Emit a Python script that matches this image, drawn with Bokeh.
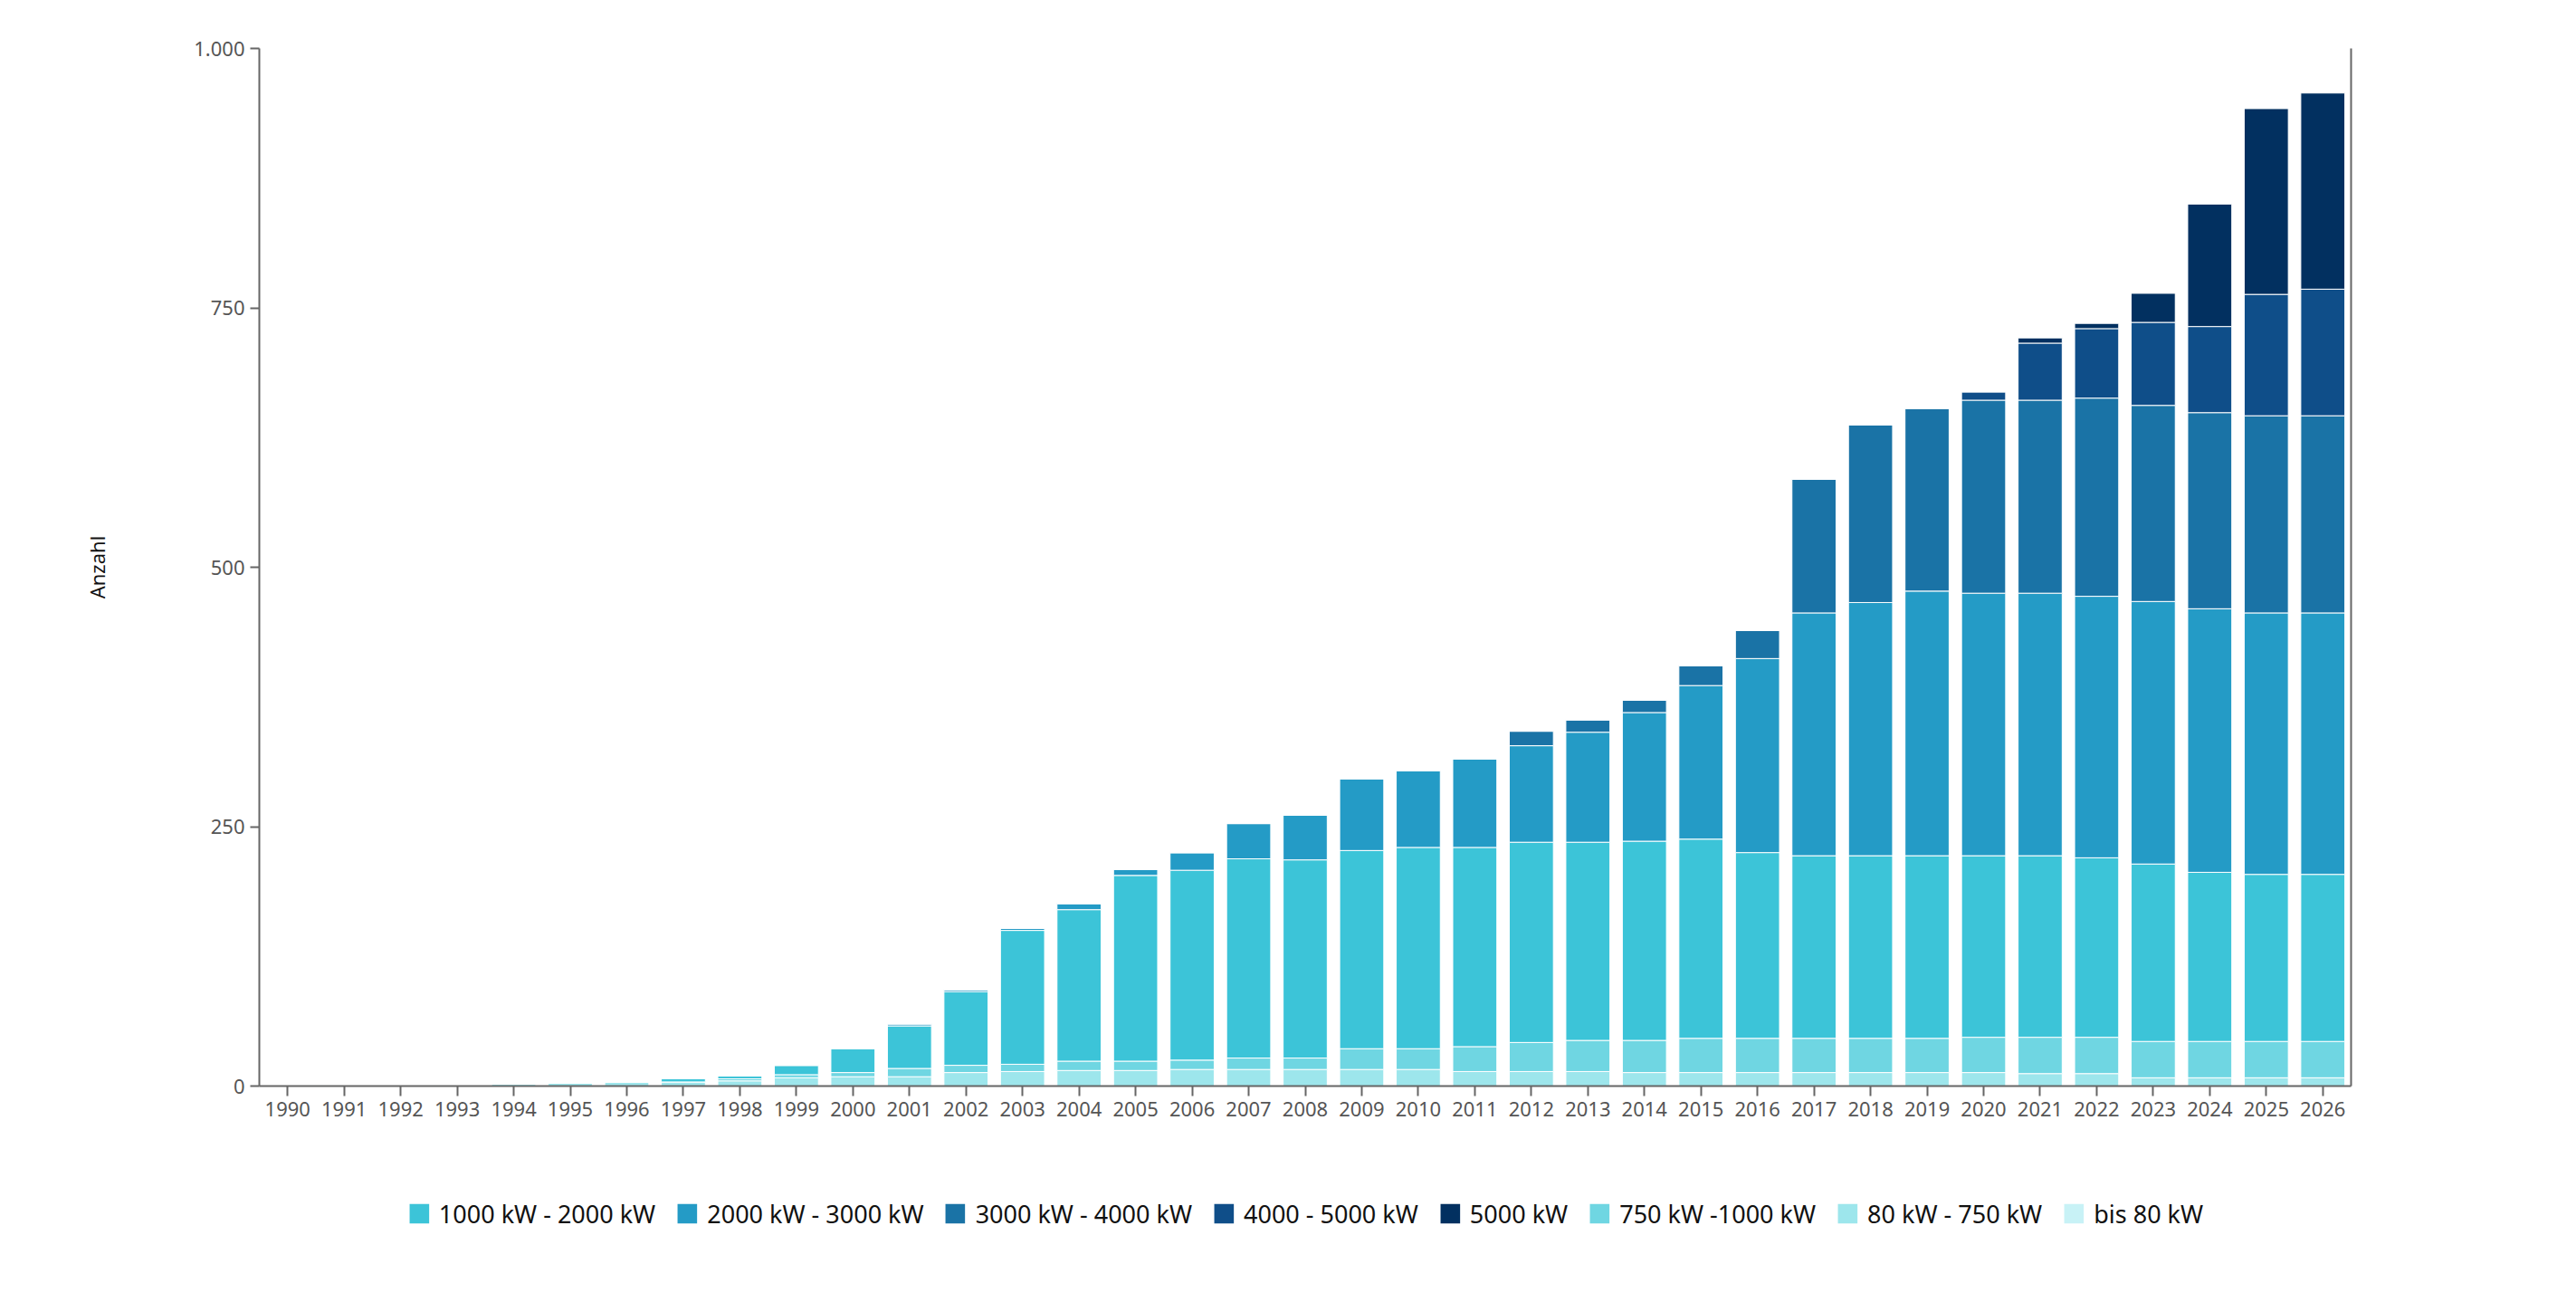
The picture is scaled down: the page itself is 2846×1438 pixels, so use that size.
from bokeh.plotting import figure
from bokeh.layouts import column
from bokeh.models import (FactorRange, Range1d, Legend, LegendItem, FixedTicker,
                          LinearAxis, ColumnDataSource, Title)
from bokeh.embed import file_html
from bokeh.resources import INLINE

years = [str(y) for y in range(1990, 2027)]

bis_80 = [1, 1, 1, 1, 0, 0, 0, 0, 0, 0, 0, 0, 0, 0, 0, 0, 0, 0, 0, 0,
          0, 0, 0, 0, 0, 0, 0, 0, 0, 0, 0, 0, 0, 0, 0, 0, 0]
kw80_750 = [0, 0, 0, 0, 2, 3, 4, 4, 5, 8, 9, 9, 13, 14, 15, 15, 16, 16, 16, 16,
            16, 14, 14, 14, 13, 13, 13, 13, 13, 13, 13, 12, 12, 8, 8, 8, 8]
kw750_1000 = [0, 0, 0, 0, 0, 0, 0, 0, 2, 3, 4, 8, 7, 7, 9, 9, 9, 11, 11, 20,
              20, 24, 28, 30, 31, 33, 33, 33, 33, 33, 34, 35, 35, 35, 35, 35, 35]
kw1000_2000 = [0, 0, 0, 0, 0, 0, 0, 3, 3, 9, 23, 41, 71, 129, 146, 179, 183, 192, 191, 191,
               194, 192, 193, 191, 192, 192, 179, 176, 176, 176, 175, 175, 173, 171, 163, 161, 161]
kw2000_3000 = [0, 0, 0, 0, 0, 0, 0, 0, 0, 0, 0, 2, 2, 2, 6, 6, 17, 34, 43, 69,
               74, 85, 93, 106, 124, 148, 187, 234, 244, 255, 253, 253, 252, 253, 254, 252, 252]
kw3000_4000 = [0, 0, 0, 0, 0, 0, 0, 0, 0, 0, 0, 0, 0, 0, 0, 0, 0, 0, 0, 0,
               0, 0, 14, 12, 12, 19, 27, 129, 171, 176, 186, 186, 191, 189, 189, 190, 190]
kw4000_5000 = [0, 0, 0, 0, 0, 0, 0, 0, 0, 0, 0, 0, 0, 0, 0, 0, 0, 0, 0, 0,
               0, 0, 0, 0, 0, 0, 0, 0, 0, 0, 8, 55, 67, 80, 83, 117, 122]
kw5000 = [0, 0, 0, 0, 0, 0, 0, 0, 0, 0, 0, 0, 0, 0, 0, 0, 0, 0, 0, 0,
          0, 0, 0, 0, 0, 0, 0, 0, 0, 0, 0, 5, 5, 28, 118, 179, 189]

y_ticks = [0, 250, 500, 750, 1000]
y_tick_labels = {0: "0", 250: "250", 500: "500", 750: "750", 1000: "1.000"}

# stacking order from bottom to top
stack_keys = ["bis80", "k80", "k750", "k1000", "k2000", "k3000", "k4000", "k5000"]
stack_labels = ["bis 80 kW", "80 kW - 750 kW", "750 kW -1000 kW", "1000 kW - 2000 kW",
                "2000 kW - 3000 kW", "3000 kW - 4000 kW", "4000 - 5000 kW", "5000 kW"]
stack_colors = ["#c8f2f6", "#9de6ec", "#6fd6e2", "#3cc4d8",
                "#249bc6", "#1a73a6", "#0f4e89", "#023060"]
legend_order = ["k1000", "k2000", "k3000", "k4000", "k5000", "k750", "k80", "bis80"]

source = ColumnDataSource(data=dict(
    years=years, bis80=bis_80, k80=kw80_750, k750=kw750_1000, k1000=kw1000_2000,
    k2000=kw2000_3000, k3000=kw3000_4000, k4000=kw4000_5000, k5000=kw5000))

FONT = "Noto Sans"

p = figure(width=2830, height=1249, x_range=FactorRange(*years, range_padding=0),
           y_range=Range1d(0, 1000), output_backend="svg", toolbar_location=None,
           min_border_left=249, min_border_right=233, min_border_top=53,
           min_border_bottom=50)
p.outline_line_color = None
p.background_fill_color = "white"
p.border_fill_color = "white"

renderers = p.vbar_stack(stack_keys, x="years", width=0.78, color=stack_colors,
                         line_color="white", line_width=1, source=source)

# axes
p.xaxis.axis_line_color = "#666666"
p.xaxis.axis_line_width = 2
p.xaxis.major_tick_line_color = "#666666"
p.xaxis.major_tick_line_width = 2
p.xaxis.major_tick_out = 11
p.xaxis.major_tick_in = 0
p.xaxis.minor_tick_line_color = None
p.xaxis.major_label_text_font = FONT
p.xaxis.major_label_text_font_size = "22px"
p.xaxis.major_label_text_color = "#555555"
p.xaxis.major_label_standoff = 6
p.xaxis.group_text_font_size = "0px"

p.yaxis.ticker = FixedTicker(ticks=y_ticks)
p.yaxis.major_label_overrides = y_tick_labels
p.yaxis.axis_line_color = "#666666"
p.yaxis.axis_line_width = 2
p.yaxis.major_tick_line_color = "#666666"
p.yaxis.major_tick_line_width = 2
p.yaxis.major_tick_out = 10
p.yaxis.major_tick_in = 0
p.yaxis.minor_tick_line_color = None
p.yaxis.major_label_text_font = FONT
p.yaxis.major_label_text_font_size = "22px"
p.yaxis.major_label_text_color = "#555555"
p.yaxis.major_label_standoff = 6

ylabel = Title(text="Anzahl", text_font=FONT, text_font_size="22px",
               text_font_style="normal", text_color="#111111",
               align="center", standoff=179)
p.add_layout(ylabel, "left")

right_axis = LinearAxis(ticker=FixedTicker(ticks=[]), axis_line_color="#666666",
                        axis_line_width=2, major_tick_line_color=None,
                        minor_tick_line_color=None, major_label_text_font_size="0px")
p.add_layout(right_axis, "right")

p.xgrid.grid_line_color = None
p.ygrid.ticker = FixedTicker(ticks=[1000])
p.ygrid.grid_line_color = "#eeeeee"
p.ygrid.grid_line_width = 2

# legend panel: a second figure with hidden proxy renderers for the legend
lf = figure(width=2830, height=181, x_range=FactorRange(*years),
            y_range=Range1d(-2000, -1000), output_backend="svg", toolbar_location=None,
            x_axis_location=None, y_axis_location=None,
            min_border_left=0, min_border_right=0, min_border_top=0, min_border_bottom=0)
lf.outline_line_color = None
lf.xgrid.grid_line_color = None
lf.ygrid.grid_line_color = None

proxies = lf.vbar_stack(stack_keys, x="years", width=0.78, color=stack_colors,
                        line_color=None, source=source)
for r in proxies:
    r.visible = False
proxy = dict(zip(stack_keys, proxies))
lmap = dict(zip(stack_keys, stack_labels))

items = [LegendItem(label=lmap[k], renderers=[proxy[k]]) for k in legend_order]
legend = Legend(items=items, orientation="horizontal", location="center",
                label_text_font=FONT, label_text_font_size="27px",
                label_text_color="#111111", glyph_width=27, glyph_height=27,
                label_height=27, spacing=21, label_standoff=9, padding=0, margin=0,
                border_line_color=None, background_fill_alpha=0,
                inactive_fill_alpha=0)
lf.add_layout(legend, "center")

layout = column(p, lf, spacing=0)
open("out.html", "w").write(file_html(layout, INLINE))
